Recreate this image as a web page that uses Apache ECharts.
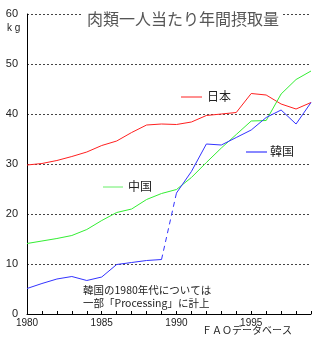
<!DOCTYPE html>
<html><head><meta charset="utf-8">
<script src="https://cdn.jsdelivr.net/npm/echarts@6/dist/echarts.min.js"></script>
<style>html,body{margin:0;padding:0;background:#fff}#c{width:333px;height:339px}</style>
</head><body><div id="c"></div>
<script>
var years = [1980,1981,1982,1983,1984,1985,1986,1987,1988,1989,1990,1991,1992,1993,1994,1995,1996,1997,1998,1999];
var japan = [29.8,30.1,30.7,31.5,32.4,33.7,34.6,36.3,37.8,38.0,37.9,38.4,39.7,40.0,40.3,44.1,43.8,42.0,41.0,42.3];
var china = [14.1,14.6,15.1,15.7,16.9,18.7,20.3,21.0,22.9,24.1,24.9,27.3,30.3,33.2,35.9,38.6,38.7,44.0,46.9,48.6];
var korea = [5.1,6.1,7.0,7.5,6.7,7.4,9.9,10.3,10.7,10.9,24.2,28.5,34.0,33.8,35.3,36.8,39.3,40.8,38.0,42.3];
var yTicks = [0,10,20,30,40,50,60];
var xLabelYears = [1980,1985,1990,1995];
var gapStart = 1989, gapEnd = 1990;

function pairs(arr, filt){
  return years.map(function(y,i){ return (filt && !filt(y)) ? [y,null] : [y,arr[i]]; });
}
var FONT = '"Noto Sans CJK JP", sans-serif';
var chart = echarts.init(document.getElementById('c'));
chart.setOption({
  animation:false,
  backgroundColor:'#fff',
  grid:{left:27,right:22,top:14,bottom:25,containLabel:false},
  xAxis:{type:'value',min:1980,max:1999,interval:1,
    axisLine:{lineStyle:{color:'#000',width:1}},
    axisTick:{inside:true,length:3,lineStyle:{color:'#000'}},
    splitLine:{show:false},
    axisLabel:{fontSize:10,color:'#222',fontFamily:'sans-serif',margin:4,
      formatter:function(v){return xLabelYears.indexOf(v)>=0 ? String(v) : '';}}
  },
  yAxis:{type:'value',min:yTicks[0],max:yTicks[yTicks.length-1],interval:10,
    axisLine:{show:true,lineStyle:{color:'#000',width:1}},
    axisTick:{show:false},
    splitLine:{show:true,lineStyle:{color:'#444',type:[2,2],width:1}},
    axisLabel:{fontSize:11,color:'#222',fontFamily:'sans-serif',margin:9}
  },
  series:[
    {type:'line',data:pairs(japan),symbol:'none',lineStyle:{color:'#ff2020',width:1},z:3},
    {type:'line',data:pairs(china),symbol:'none',lineStyle:{color:'#33ee33',width:1},z:3},
    {type:'line',data:pairs(korea,function(y){return y<=gapStart;}),symbol:'none',connectNulls:false,lineStyle:{color:'#3333ff',width:1},z:4},
    {type:'line',data:pairs(korea,function(y){return y>=gapEnd;}),symbol:'none',connectNulls:false,lineStyle:{color:'#3333ff',width:1},z:4},
    {type:'line',data:pairs(korea,function(y){return y>=gapStart && y<=gapEnd;}),symbol:'none',connectNulls:false,lineStyle:{color:'#3333ff',width:1,type:[5,4]},z:4}
  ],
  graphic:[
    {type:'text',x:83,y:11,z:10,style:{text:'肉類一人当たり年間摂取量',font:'16px '+FONT,fill:'#555',backgroundColor:'#fff',padding:[0,4]}},
    {type:'text',x:7,y:23,style:{text:'k g',font:'10px sans-serif',fill:'#222'}},
    {type:'line',shape:{x1:181,y1:97,x2:202,y2:97},style:{stroke:'#ff2020',lineWidth:1}},
    {type:'text',x:207,y:90,style:{text:'日本',font:'12px '+FONT,fill:'#222'}},
    {type:'line',shape:{x1:103,y1:187,x2:123,y2:187},style:{stroke:'#66ee66',lineWidth:1}},
    {type:'text',x:128,y:180,style:{text:'中国',font:'12px '+FONT,fill:'#222'}},
    {type:'line',shape:{x1:246,y1:152,x2:267,y2:152},style:{stroke:'#8888ff',lineWidth:2}},
    {type:'text',x:270,y:145,style:{text:'韓国',font:'12px '+FONT,fill:'#222'}},
    {type:'text',x:83,y:284,style:{text:'韓国の1980年代については\n一部「Processing」に計上',font:'10.5px '+FONT,fill:'#222',lineHeight:13}},
    {type:'text',x:202,y:325,style:{text:'ＦＡＯデータベース',font:'10px '+FONT,fill:'#222'}}
  ]
});
</script></body></html>
